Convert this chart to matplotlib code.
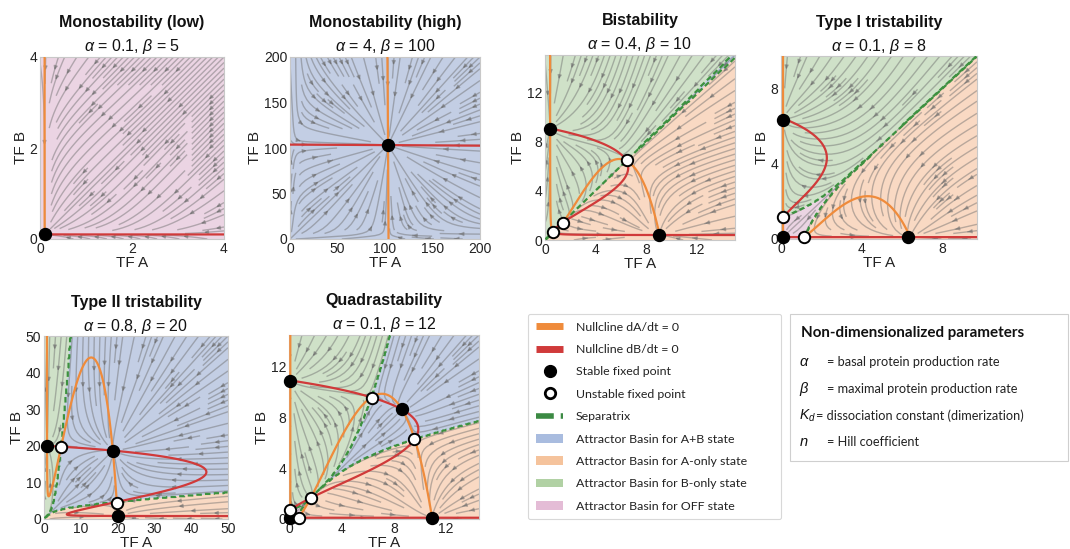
import numpy as np
import matplotlib
matplotlib.use("Agg")
import matplotlib.pyplot as plt
from matplotlib.lines import Line2D
from matplotlib.patches import Patch, Rectangle

plt.rcParams['font.family'] = ['Liberation Sans', 'DejaVu Sans']
plt.rcParams['mathtext.fontset'] = 'custom'
plt.rcParams['mathtext.rm'] = 'Liberation Sans'
plt.rcParams['mathtext.it'] = 'Liberation Sans:italic'
plt.rcParams['mathtext.bf'] = 'Liberation Sans:bold'

# ---------------- data ----------------
titles = ["Monostability (low)", "Monostability (high)", "Bistability",
          "Type I tristability", "Type II tristability", "Quadrastability"]
alpha_vals = [0.1, 4, 0.4, 0.1, 0.8, 0.1]
beta_vals = [5, 100, 10, 8, 20, 12]
kd_val = 1.0
hill_n = 1.5
axis_max = [4, 200, 15, 9.7, 50, 14.5]
tick_vals = [[0, 2, 4], [0, 50, 100, 150, 200], [0, 4, 8, 12], [0, 4, 8],
             [0, 10, 20, 30, 40, 50], [0, 4, 8, 12]]
stable_A = [[0.11], [103], [0.42, 9.0], [0.11, 0.11, 6.3],
            [0.85, 20.0, 18.7], [0.11, 0.11, 10.9, 8.66]]
stable_B = [[0.11], [103], [9.0, 0.42], [0.11, 6.3, 0.11],
            [20.0, 0.85, 18.7], [0.11, 10.9, 0.11, 8.66]]
unstable_A = [[], [], [0.62, 1.4, 6.5], [0.11, 1.15], [4.5, 19.8],
              [0.11, 0.73, 1.65, 6.3, 9.55]]
unstable_B = [[], [], [0.62, 1.4, 6.5], [1.15, 0.11], [19.8, 4.5],
              [0.73, 0.11, 1.65, 9.55, 6.3]]
legend_labels = ["Nullcline dA/dt = 0", "Nullcline dB/dt = 0", "Stable fixed point",
                 "Unstable fixed point", "Separatrix", "Attractor Basin for A+B state",
                 "Attractor Basin for A-only state", "Attractor Basin for B-only state",
                 "Attractor Basin for OFF state"]
param_symbols = [r"$\alpha$", r"$\beta$", r"$K_d$", r"$n$"]
param_texts = ["= basal protein production rate", "= maximal protein production rate",
               "= dissociation constant (dimerization)", "= Hill coefficient"]

# ---------------- styles ----------------
ORANGE = '#ef8b3b'
RED = '#d03a3a'
SEP = '#3d9140'
# basin colours indexed by label: 0 OFF, 1 A-only, 2 B-only, 3 A+B
BASIN_BG = ['#ebd4e3', '#f9d9c3', '#cfe1c8', '#c3cee4']
BASIN_LEG = ['#a9bcdf', '#f5c39c', '#b1d1a4', '#e4bcd6']   # A+B, A, B, OFF
W, H = 1070, 549
panel_px = [(40, 57, 184, 182), (290, 57, 190, 182), (545, 55, 190, 185),
            (781, 56, 196, 183), (44, 336, 184, 183), (289, 335, 190, 184)]


# ---------------- model (toggle switch with competitive dimerization) -------
def hill(a):
    d = (a * a / kd_val) ** hill_n
    return d / (1.0 + d)


def totals(a, b):
    ta = a + 2 * a * a / kd_val + 2 * a * b / kd_val
    tb = b + 2 * b * b / kd_val + 2 * a * b / kd_val
    return ta, tb


def monomers(TA, TB, iters=80):
    a = np.zeros_like(TA, dtype=float)
    b = np.zeros_like(TB, dtype=float)
    for _ in range(iters):
        p = 1 + 2 * b / kd_val
        a = (-p + np.sqrt(p * p + 8 * TA / kd_val)) * kd_val / 4
        q = 1 + 2 * a / kd_val
        b = (-q + np.sqrt(q * q + 8 * TB / kd_val)) * kd_val / 4
    return a, b


def rates(a, b, al, be):
    ta, tb = totals(a, b)
    return al + be * hill(a) - ta, al + be * hill(b) - tb


def basins(al, be, L, n=240, steps=420, dt=0.1):
    xs = (np.arange(n) + 0.5) * L / n
    ys = (np.arange(n + 1) + 0.5) * L / (n + 1)
    TA, TB = np.meshgrid(xs, ys)
    a, b = monomers(TA, TB)
    for _ in range(steps):
        FA, FB = rates(a, b, al, be)
        j11 = 1 + 4 * a / kd_val + 2 * b / kd_val
        j12 = 2 * a / kd_val
        j21 = 2 * b / kd_val
        j22 = 1 + 4 * b / kd_val + 2 * a / kd_val
        det = j11 * j22 - j12 * j21
        da = (j22 * FA - j12 * FB) / det
        db = (j11 * FB - j21 * FA) / det
        a = np.maximum(a + dt * da, 0.0)
        b = np.maximum(b + dt * db, 0.0)
    ta, tb = totals(a, b)
    thr = (al + be) / 3.0
    lab = (ta > thr).astype(int) + 2 * (tb > thr).astype(int)
    return xs, ys, lab


fig = plt.figure(figsize=(W / 100, H / 100), dpi=100)

for k in range(6):
    l, t, w, h = panel_px[k]
    ax = fig.add_axes([l / W, 1 - (t + h) / H, w / W, h / H])
    al, be, L = alpha_vals[k], beta_vals[k], axis_max[k]

    # basins
    xs, ys, lab = basins(al, be, L)
    rgb = np.array([matplotlib.colors.to_rgb(c) for c in BASIN_BG])[lab]
    ax.imshow(rgb, extent=(0, L, 0, L), origin='lower', aspect='auto',
              interpolation='nearest', zorder=0)

    # streamlines
    xg = np.linspace(0, L, 60)
    TAg, TBg = np.meshgrid(xg, xg)
    ag, bg = monomers(TAg, TBg)
    FA, FB = rates(ag, bg, al, be)
    ax.streamplot(xg, xg, FA, FB, density=1.15, color=(0.42, 0.42, 0.42, 0.45),
                  linewidth=1.0, arrowsize=0.55, zorder=2)

    # separatrices (basin boundaries)
    for i in range(4):
        for j in range(i + 1, 4):
            if not ((lab == i).any() and (lab == j).any()):
                continue
            z = np.full(lab.shape, np.nan)
            z[lab == i] = 1.0
            z[lab == j] = -1.0
            cs = ax.contour(xs, ys, np.ma.masked_invalid(z), levels=[0], colors=SEP,
                            linewidths=1.6, zorder=3)
            cs.set_linestyle((0, (2.5, 1.5)))

    # nullclines on a curvilinear monomer grid
    amax = (-1 + np.sqrt(1 + 8 * L / kd_val)) * kd_val / 4
    av = amax * np.linspace(0, 1, 800) ** 1.6
    A_, B_ = np.meshgrid(av, av)
    TA_, TB_ = totals(A_, B_)
    FA_, FB_ = rates(A_, B_, al, be)
    ax.contour(TA_, TB_, FA_, levels=[0], colors=ORANGE, linewidths=1.6, zorder=4)
    ax.contour(TA_, TB_, FB_, levels=[0], colors=RED, linewidths=1.6, zorder=4)

    # fixed points
    ax.plot(stable_A[k], stable_B[k], ls='none', marker='o', ms=8.6, mfc='black',
            mec='black', zorder=6, clip_on=False)
    if unstable_A[k]:
        ax.plot(unstable_A[k], unstable_B[k], ls='none', marker='o', ms=8.2, mfc='white',
                mec='black', mew=1.4, zorder=6, clip_on=False)

    ax.set_xlim(0, L)
    ax.set_ylim(0, L)
    ax.set_xticks(tick_vals[k])
    ax.set_yticks(tick_vals[k])
    ax.tick_params(length=0, pad=2.0, labelsize=10, colors='#222222')
    for s in ax.spines.values():
        s.set_color('#c8c8c8')
        s.set_linewidth(0.8)
    ax.set_xlabel("TF A", fontsize=11, labelpad=0.2, color='#222222')
    ax.set_ylabel("TF B", fontsize=11, labelpad=1.0, color='#222222')

    ax.text(0.5, 1 + 29.5 / h, titles[k], transform=ax.transAxes, ha='center',
            va='baseline', fontsize=11.5, fontweight='bold', color='#111111')
    ax.text(0.5, 1 + 5.5 / h, r"$\alpha$ = %s, $\beta$ = %s" % (al, be),
            transform=ax.transAxes, ha='center', va='baseline', fontsize=11.5,
            color='#111111')

# ---------------- legend ----------------
handles = [
    Line2D([], [], color=ORANGE, lw=5, solid_capstyle='butt'),
    Line2D([], [], color=RED, lw=5, solid_capstyle='butt'),
    Line2D([], [], ls='none', marker='o', ms=8.5, mfc='black', mec='black'),
    Line2D([], [], ls='none', marker='o', ms=7.5, mfc='white', mec='black', mew=2),
    Line2D([], [], color='#3b8a43', lw=4, dashes=(3.2, 1.25, 0.9, 3)),
    Patch(facecolor=BASIN_LEG[0], edgecolor='none'),
    Patch(facecolor=BASIN_LEG[1], edgecolor='none'),
    Patch(facecolor=BASIN_LEG[2], edgecolor='none'),
    Patch(facecolor=BASIN_LEG[3], edgecolor='none'),
]
leg = fig.legend(handles, legend_labels, loc='upper left',
                 bbox_to_anchor=(528 / W, 1 - 520 / H, 253 / W, 206 / H),
                 bbox_transform=fig.transFigure, mode='expand', borderaxespad=0,
                 prop={'family': 'Lato', 'size': 8.9}, handlelength=2.25,
                 handletextpad=1.0, labelspacing=0.92, borderpad=0.62,
                 frameon=True, fancybox=True)
leg.get_frame().set_edgecolor('#cfcfcf')
leg.get_frame().set_linewidth(0.8)
for txt in leg.get_texts():
    txt.set_color('#222222')

# ---------------- parameter box ----------------
rect = Rectangle((790 / W, 1 - 461 / H), (1068 - 790) / W, (461 - 314) / H,
                 transform=fig.transFigure, facecolor='white', edgecolor='#cfcfcf',
                 linewidth=0.8)
fig.add_artist(rect)
fig.text(801 / W, 1 - 333 / H, "Non-dimensionalized parameters", family='Lato',
         fontweight='bold', fontsize=10.9, va='center', color='#111111')
row_y = [362, 389, 416, 442]
text_x = [827, 827, 816, 827]
sym_size = [10.5, 10.5, 10.0, 10.5]
for sym, txt, yy, tx, ss in zip(param_symbols, param_texts, row_y, text_x, sym_size):
    fig.text(799 / W, 1 - yy / H, sym, fontsize=ss, va='center', color='#111111')
    fig.text(tx / W, 1 - yy / H, txt, family='Lato', fontsize=9.2, va='center',
             color='#222222')

fig.savefig("out.png", dpi=100)
